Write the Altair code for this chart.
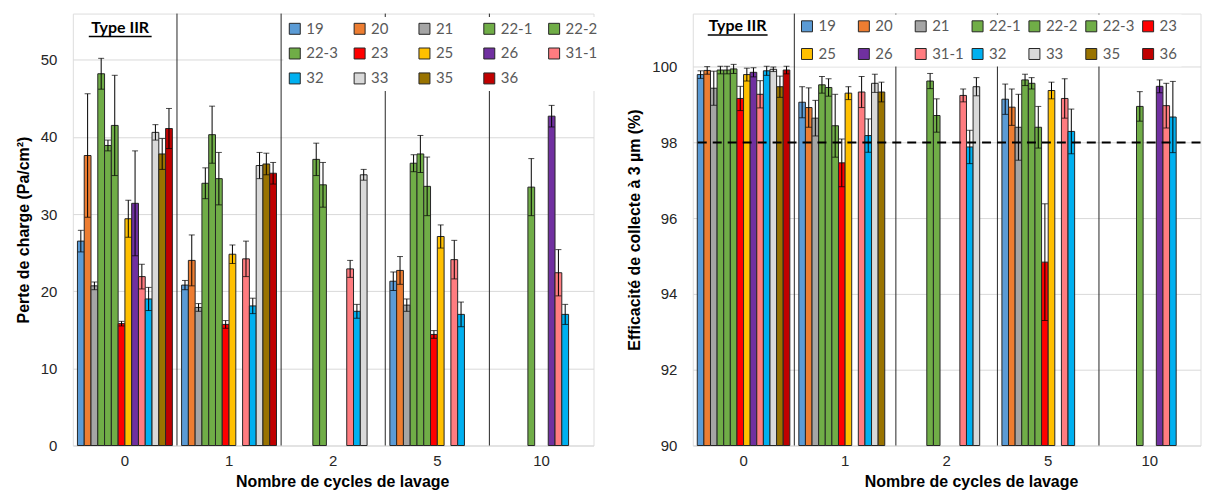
import altair as alt
import pandas as pd

# ---------------- data ----------------
series = ["19", "20", "21", "22-1", "22-2", "22-3", "23", "25", "26", "31-1", "32", "33", "35", "36"]
colors = ["#5B9BD5", "#ED7D31", "#A5A5A5", "#70AD47", "#70AD47", "#70AD47", "#FF0000",
          "#FFC000", "#7030A0", "#FF7C80", "#00B0F0", "#D9D9D9", "#997300", "#C00000"]
cycles = ["0", "1", "2", "5", "10"]

# Perte de charge (Pa/cm2)
perte_c0 = [26.5, 37.6, 20.7, 48.2, 38.9, 41.5, 15.8, 29.4, 31.4, 21.9, 19.0, 40.6, 37.8, 41.1]
perte_c0_err = [1.4, 8.0, 0.5, 2.0, 0.7, 6.5, 0.3, 2.4, 6.8, 1.6, 1.5, 1.0, 2.0, 2.6]
perte_c1 = [20.8, 24.0, 17.9, 34.0, 40.3, 34.6, 15.7, 24.8, None, 24.2, 18.1, 36.3, 36.5, 35.3]
perte_c1_err = [0.6, 3.3, 0.5, 2.0, 3.7, 3.4, 0.5, 1.2, None, 2.3, 1.0, 1.7, 1.4, 1.4]
perte_c2 = [None, None, None, None, 37.1, 33.8, None, None, None, 22.9, 17.4, 35.1, None, None]
perte_c2_err = [None, None, None, None, 2.1, 2.9, None, None, None, 1.1, 0.9, 0.7, None, None]
perte_c5 = [21.3, 22.7, 18.2, 36.6, 37.8, 33.6, 14.4, 27.1, None, 24.1, 17.0, None, None, None]
perte_c5_err = [1.2, 1.8, 0.8, 1.1, 2.4, 3.8, 0.5, 1.5, None, 2.5, 1.6, None, None, None]
perte_c10 = [None, None, None, None, None, 33.5, None, None, 42.7, 22.4, 17.0, None, None, None]
perte_c10_err = [None, None, None, None, None, 3.7, None, None, 1.4, 3.0, 1.3, None, None, None]

# Efficacite de collecte a 3 um (%)
eff_c0 = [99.79, 99.90, 99.43, 99.91, 99.91, 99.94, 99.16, 99.79, 99.85, 99.27, 99.89, 99.93, 99.47, 99.91]
eff_c0_err = [0.10, 0.10, 0.45, 0.10, 0.10, 0.12, 0.32, 0.17, 0.12, 0.36, 0.12, 0.06, 0.28, 0.10]
eff_c1 = [99.06, 98.92, 98.64, 99.52, 99.45, 98.44, 97.46, 99.30, None, 99.33, 98.18, 99.56, 99.33, None]
eff_c1_err = [0.41, 0.52, 0.47, 0.22, 0.23, 0.83, 0.63, 0.17, None, 0.41, 0.44, 0.24, 0.26, None]
eff_c2 = [None, None, None, None, 99.62, 98.71, None, None, None, 99.24, 97.88, 99.47, None, None]
eff_c2_err = [None, None, None, None, 0.20, 0.44, None, None, None, 0.17, 0.44, 0.24, None, None]
eff_c5 = [99.14, 98.93, 98.40, 99.65, 99.56, 98.40, 94.84, 99.37, None, 99.16, 98.29, None, None, None]
eff_c5_err = [0.40, 0.48, 0.87, 0.15, 0.15, 0.55, 1.54, 0.22, None, 0.52, 0.59, None, None, None]
eff_c10 = [None, None, None, None, None, 98.95, None, None, 99.48, 98.97, 98.67, None, None, None]
eff_c10_err = [None, None, None, None, None, 0.39, None, None, 0.17, 0.59, 0.94, None, None, None]

perte_ticks = [0, 10, 20, 30, 40, 50]
eff_ticks = [90, 92, 94, 96, 98, 100]
seuil = 98
label_type = "Type IIR"

FONT = "Lato"


def build(vals_lists, err_lists):
    rows = []
    for c, vals, errs in zip(cycles, vals_lists, err_lists):
        for s, v, e in zip(series, vals, errs):
            if v is None:
                continue
            rows.append({"cycle": c, "serie": s, "value": v, "lo": v - e, "hi": v + e})
    return pd.DataFrame(rows)


df_perte = build([perte_c0, perte_c1, perte_c2, perte_c5, perte_c10],
                 [perte_c0_err, perte_c1_err, perte_c2_err, perte_c5_err, perte_c10_err])
df_eff = build([eff_c0, eff_c1, eff_c2, eff_c5, eff_c10],
               [eff_c0_err, eff_c1_err, eff_c2_err, eff_c5_err, eff_c10_err])
df_sep = pd.DataFrame({"cycle": cycles[1:]})
df_lab = pd.DataFrame({"t": [label_type]})
df_seuil = pd.DataFrame({"y": [seuil]})


def panel(df, ydomain, yticks, ytitle, width, legend_cols, legend_x, legend_y,
          leg_pad, row_pad, col_pad, title_x, text_x, text_y, ul_x1, ul_x2,
          dashed=False, ybase=None):
    xscale = alt.Scale(domain=cycles, paddingInner=0, paddingOuter=0)
    xaxis = alt.Axis(title="Nombre de cycles de lavage", labelAngle=0, domain=False,
                     ticks=False, tickSize=0, labelPadding=8, labelFontSize=15,
                     labelColor="#262626", titleFontSize=16, titleFontWeight="bold",
                     titleColor="black", titlePadding=5, titleX=title_x)
    x = alt.X("cycle:N", sort=cycles, scale=xscale, axis=xaxis)
    xo = alt.XOffset("serie:N", sort=series,
                     scale=alt.Scale(domain=series, paddingInner=0, paddingOuter=0.68))
    y = alt.Y("value:Q", scale=alt.Scale(domain=ydomain, nice=False, zero=False),
              axis=alt.Axis(values=yticks, title=ytitle, domain=False, ticks=False, tickSize=0,
                            grid=True, gridColor="#D9D9D9", labelFontSize=15,
                            labelColor="#262626", labelPadding=16, titleFontSize=16,
                            titleFontWeight="bold", titleColor="black", titlePadding=9))
    color = alt.Color("serie:N", sort=series,
                      scale=alt.Scale(domain=series, range=colors),
                      legend=alt.Legend(orient="none", legendX=legend_x, legendY=legend_y,
                                        direction="horizontal", columns=legend_cols,
                                        title=None, symbolType="square", symbolSize=121,
                                        symbolStrokeColor="#262626", symbolStrokeWidth=1,
                                        labelFont=FONT, labelFontSize=15, labelColor="#595959",
                                        labelOffset=4, fillColor="white", padding=leg_pad,
                                        rowPadding=row_pad, columnPadding=col_pad,
                                        gridAlign="all"))
    base = alt.Chart(df)
    enc_y2 = {}
    if ybase is not None:
        enc_y2 = {"y2": alt.datum(ybase)}
    seps = alt.Chart(df_sep).mark_rule(color="#262626", strokeWidth=1).encode(
        x=alt.X("cycle:N", sort=cycles, bandPosition=0, scale=xscale, axis=xaxis))
    bars = base.mark_bar(stroke="#262626", strokeWidth=1).encode(
        x=x, xOffset=xo, y=y, color=color, **enc_y2)
    errs = base.mark_rule(color="black", strokeWidth=1).encode(
        x=x, xOffset=xo, y="lo:Q", y2="hi:Q")
    cap_hi = base.mark_tick(color="black", thickness=1, size=6).encode(
        x=x, xOffset=xo, y="hi:Q")
    cap_lo = base.mark_tick(color="black", thickness=1, size=6).encode(
        x=x, xOffset=xo, y="lo:Q")
    layers = [seps, bars, errs, cap_hi, cap_lo]
    if dashed:
        layers.append(alt.Chart(df_seuil).mark_rule(color="black", strokeWidth=2,
                                                     strokeDash=[9, 6]).encode(y="y:Q"))
    txt = alt.Chart(df_lab).mark_text(font=FONT, fontSize=16, fontWeight="bold",
                                      color="black", align="center", baseline="alphabetic").encode(
        text="t:N", x=alt.value(text_x), y=alt.value(text_y))
    ul = alt.Chart(df_lab).mark_rule(color="black", strokeWidth=1.5).encode(
        x=alt.value(ul_x1), x2=alt.value(ul_x2), y=alt.value(text_y + 4))
    layers += [txt, ul]
    return alt.layer(*layers).properties(width=width, height=433)


left = panel(df_perte, [0, 56], perte_ticks, "Perte de charge (Pa/cm²)", 522,
             5, 211, 3.5, 4, 9, 14, 270, 47.5, 19, 16, 79)
right = panel(df_eff, [90, 101.4], eff_ticks, "Efficacité de collecte à 3 µm (%)", 509,
              7, 103, 1, 4, 12, 6, 279, 45, 17.5, 15, 75, dashed=True, ybase=90)

chart = alt.hconcat(left, right, spacing=23.5).resolve_scale(
    x="independent", y="independent", color="independent", xOffset="independent"
).resolve_legend(color="independent").properties(
    padding={"left": 6, "top": 4, "right": 0, "bottom": 0}
).configure_view(stroke="#404040", strokeWidth=1).configure_axis(
    labelFont=FONT, titleFont=FONT
).configure(background="white")

chart.save("out.html", embed_options={"renderer": "svg", "actions": False})
